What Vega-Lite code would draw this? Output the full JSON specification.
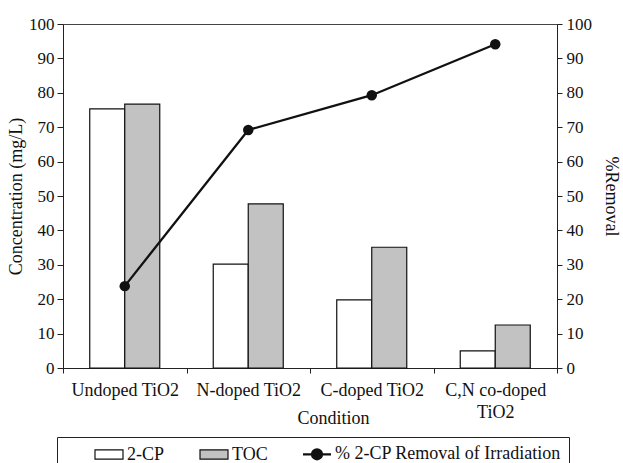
{
  "$schema": "https://vega.github.io/schema/vega-lite/v6.json",
  "width": 494,
  "height": 344,
  "autosize": {"type": "none"},
  "padding": {"left": 63, "top": 24, "right": 66, "bottom": 95},
  "background": "white",
  "config": {
    "font": "Liberation Serif",
    "view": {"stroke": "#444", "strokeWidth": 1},
    "axis": {
      "labelFont": "Liberation Serif",
      "titleFont": "Liberation Serif",
      "labelFontSize": 17,
      "titleFontSize": 18,
      "titleFontWeight": "normal",
      "labelColor": "#111",
      "titleColor": "#111",
      "domainColor": "#222",
      "tickColor": "#222",
      "grid": false
    },
    "legend": {
      "orient": "none",
      "legendX": -6,
      "legendY": 413,
      "direction": "horizontal",
      "columns": 3,
      "strokeColor": "#222",
      "padding": 8,
      "symbolOffset": 35,
      "columnPadding": 5,
      "labelOffset": 9,
      "labelFont": "Liberation Serif",
      "labelFontSize": 18,
      "labelColor": "#111",
      "labelLimit": 400,
      "symbolSize": 784,
      "symbolStrokeColor": "#111",
      "symbolStrokeWidth": 1.2,
      "symbolType": "M-1,-0.33H1V0.33H-1Z"
    }
  },
  "datasets": {
    "bars": [
      {"condition": "Undoped TiO2", "series": "2-CP", "value": 75.3},
      {"condition": "Undoped TiO2", "series": "TOC", "value": 76.7},
      {"condition": "N-doped TiO2", "series": "2-CP", "value": 30.2},
      {"condition": "N-doped TiO2", "series": "TOC", "value": 47.7},
      {"condition": "C-doped TiO2", "series": "2-CP", "value": 19.8},
      {"condition": "C-doped TiO2", "series": "TOC", "value": 35.1},
      {"condition": "C,N co-doped TiO2", "series": "2-CP", "value": 5.0},
      {"condition": "C,N co-doped TiO2", "series": "TOC", "value": 12.5}
    ],
    "removal": [
      {"condition": "Undoped TiO2", "removal": 23.8},
      {"condition": "N-doped TiO2", "removal": 69.2},
      {"condition": "C-doped TiO2", "removal": 79.3},
      {"condition": "C,N co-doped TiO2", "removal": 94.1}
    ]
  },
  "layer": [
    {
      "data": {"name": "bars"},
      "mark": {"type": "bar", "stroke": "#111", "strokeWidth": 1.2},
      "encoding": {
        "x": {
          "field": "condition",
          "type": "nominal",
          "scale": {
            "domain": ["Undoped TiO2", "N-doped TiO2", "C-doped TiO2", "C,N co-doped TiO2"],
            "paddingInner": 0,
            "paddingOuter": 0
          },
          "axis": {
            "title": "Condition",
            "tickBand": "extent",
            "tickSize": 5,
            "labelPadding": 8,
            "labelAngle": 0,
            "labelLimit": 200,
            "labelFontSize": 18,
            "labelBaseline": "top",
            "labelLineHeight": 22,
            "labelExpr": "datum.label === 'C,N co-doped TiO2' ? ['C,N co-doped', 'TiO2'] : datum.label",
            "titleX": 270,
            "titleY": 41
          }
        },
        "xOffset": {
          "field": "series",
          "type": "nominal",
          "scale": {"paddingInner": 0, "paddingOuter": 0.764}
        },
        "y": {
          "field": "value",
          "type": "quantitative",
          "scale": {"domain": [0, 100], "nice": false},
          "axis": {
            "title": "Concentration (mg/L)",
            "values": [0, 10, 20, 30, 40, 50, 60, 70, 80, 90, 100],
            "tickSize": 6,
            "labelPadding": 3,
            "titlePadding": 3
          }
        },
        "fill": {
          "field": "series",
          "type": "nominal",
          "scale": {
            "domain": ["2-CP", "TOC", "% 2-CP Removal of Irradiation"],
            "range": ["white", "#c2c2c2", "#111"]
          },
          "legend": {
            "title": null,
            "encode": {
              "symbols": {
                "update": {
                  "shape": {"signal": "datum.value === '% 2-CP Removal of Irradiation' ? 'M-1,0H1M0.36,0A0.36,0.36 0 1 1 -0.36,0A0.36,0.36 0 1 1 0.36,0' : 'M-1,-0.33H1V0.33H-1Z'"},
                  "strokeWidth": {"signal": "datum.value === '% 2-CP Removal of Irradiation' ? 2.2 : 1.2"}
                }
              }
            }
          }
        }
      }
    },
    {
      "data": {"name": "removal"},
      "encoding": {
        "x": {"field": "condition", "type": "nominal"},
        "y": {
          "field": "removal",
          "type": "quantitative",
          "scale": {"domain": [0, 100], "nice": false},
          "axis": {
            "orient": "right",
            "title": "%Removal",
            "values": [0, 10, 20, 30, 40, 50, 60, 70, 80, 90, 100],
            "tickSize": 5,
            "labelPadding": 4,
            "titlePadding": 10
          }
        }
      },
      "layer": [
        {"mark": {"type": "line", "color": "#111", "strokeWidth": 2.3}},
        {"mark": {"type": "point", "filled": true, "color": "#111", "size": 110, "opacity": 1}}
      ]
    }
  ],
  "resolve": {"scale": {"y": "independent"}}
}
